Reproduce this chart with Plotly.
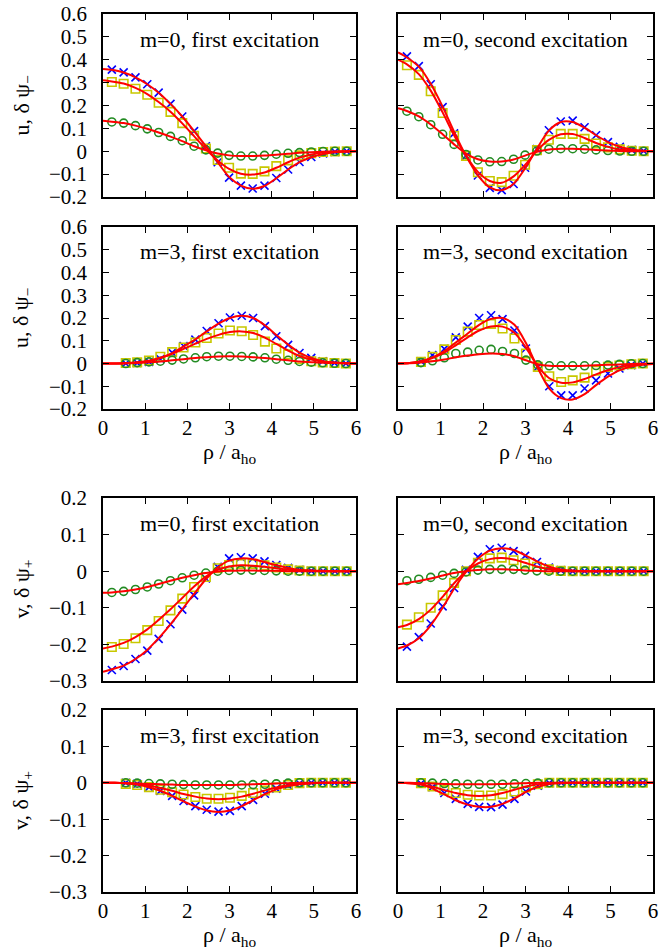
import plotly.graph_objects as go

# ---------------- data ----------------
RHO_M0 = [0.21, 0.49, 0.77, 1.05, 1.32, 1.60, 1.88, 2.16, 2.44, 2.72, 2.99,
          3.27, 3.55, 3.83, 4.11, 4.39, 4.66, 4.94, 5.22, 5.50, 5.78]
RHO_M3 = [0.54, 0.81, 1.09, 1.36, 1.64, 1.91, 2.19, 2.46, 2.74, 3.01,
          3.29, 3.56, 3.84, 4.11, 4.39, 4.66, 4.94, 5.21, 5.49, 5.76]
CURVE_M0 = [0.0] + RHO_M0 + [6.0]
CURVE_M3 = [0.0, 0.27] + RHO_M3 + [6.0]

X_TICKS = [0, 1, 2, 3, 4, 5, 6]
Y_TICKS_U = [-0.2, -0.1, 0, 0.1, 0.2, 0.3, 0.4, 0.5, 0.6]
Y_TICKS_V = [-0.3, -0.2, -0.1, 0, 0.1, 0.2]

PANEL_TITLES = ["m=0, first excitation", "m=0, second excitation",
                "m=3, first excitation", "m=3, second excitation",
                "m=0, first excitation", "m=0, second excitation",
                "m=3, first excitation", "m=3, second excitation"]

# panel 1: u, m=0, first
u0a_blue = [0.357, 0.345, 0.323, 0.293, 0.256, 0.207, 0.152, 0.088, 0.022, -0.048, -0.115,
            -0.150, -0.163, -0.150, -0.117, -0.080, -0.047, -0.025, -0.010, -0.003, 0.0]
u0a_yellow = [0.303, 0.295, 0.273, 0.247, 0.212, 0.172, 0.123, 0.068, 0.012, -0.038, -0.072,
              -0.098, -0.099, -0.088, -0.065, -0.040, -0.018, -0.008, -0.003, -0.001, 0.0]
u0a_green = [0.128, 0.123, 0.112, 0.098, 0.082, 0.065, 0.046, 0.022, 0.006, -0.008, -0.018,
             -0.021, -0.021, -0.018, -0.013, -0.009, -0.006, -0.003, -0.001, 0.0, 0.0]
u0a_fit_blue = [0.36, 0.356, 0.344, 0.323, 0.293, 0.256, 0.207, 0.152, 0.088, 0.022, -0.048, -0.112,
                -0.150, -0.164, -0.152, -0.118, -0.080, -0.048, -0.026, -0.012, -0.004, -0.001, 0.0]
u0a_fit_yellow = [0.31, 0.305, 0.296, 0.277, 0.25, 0.215, 0.173, 0.122, 0.066, 0.01, -0.04, -0.077,
                  -0.098, -0.102, -0.093, -0.072, -0.048, -0.028, -0.014, -0.006, -0.002, -0.001, 0.0]
u0a_fit_green = [0.133, 0.129, 0.123, 0.112, 0.098, 0.082, 0.064, 0.044, 0.022, 0.004, -0.010, -0.018,
                 -0.021, -0.021, -0.019, -0.015, -0.011, -0.007, -0.004, -0.002, -0.001, 0.0, 0.0]

# panel 2: u, m=0, second
u0b_blue = [0.415, 0.372, 0.293, 0.193, 0.078, -0.02, -0.106, -0.160, -0.170, -0.143, -0.072,
            0.01, 0.092, 0.130, 0.134, 0.105, 0.07, 0.04, 0.019, 0.006, 0.001]
u0b_yellow = [0.376, 0.334, 0.262, 0.167, 0.068, -0.02, -0.092, -0.13, -0.135, -0.107, -0.059,
              0.005, 0.05, 0.076, 0.076, 0.054, 0.034, 0.017, 0.008, 0.002, 0.0]
u0b_green = [0.175, 0.151, 0.116, 0.074, 0.030, -0.014, -0.038, -0.046, -0.045, -0.035, -0.017,
             0.001, 0.009, 0.011, 0.011, 0.009, 0.006, 0.003, 0.001, 0.0, 0.0]
u0b_fit_blue = [0.432, 0.41, 0.37, 0.295, 0.195, 0.085, -0.02, -0.105, -0.158, -0.170, -0.142, -0.075,
                0.012, 0.09, 0.128, 0.128, 0.103, 0.07, 0.04, 0.02, 0.008, 0.002, 0.0]
u0b_fit_yellow = [0.40, 0.38, 0.337, 0.265, 0.17, 0.07, -0.02, -0.09, -0.13, -0.138, -0.11, -0.06,
                  0.003, 0.05, 0.074, 0.075, 0.058, 0.036, 0.019, 0.008, 0.003, 0.001, 0.0]
u0b_fit_green = [0.188, 0.176, 0.152, 0.117, 0.074, 0.030, -0.010, -0.035, -0.045, -0.045, -0.036, -0.019,
                 -0.002, 0.008, 0.011, 0.011, 0.009, 0.006, 0.003, 0.001, 0.0, 0.0, 0.0]

# panel 3: u, m=3, first
u3a_blue = [0.0, 0.003, 0.007, 0.02, 0.048, 0.077, 0.105, 0.143, 0.177, 0.202,
            0.21, 0.2, 0.164, 0.12, 0.082, 0.046, 0.025, 0.01, 0.003, 0.0]
u3a_yellow = [0.002, 0.005, 0.013, 0.03, 0.05, 0.07, 0.092, 0.112, 0.132, 0.145,
              0.142, 0.125, 0.096, 0.066, 0.04, 0.02, 0.01, 0.005, 0.002, 0.0]
u3a_green = [0.0, 0.004, 0.007, 0.01, 0.015, 0.02, 0.025, 0.03, 0.032, 0.032,
             0.031, 0.029, 0.025, 0.019, 0.014, 0.009, 0.006, 0.003, 0.001, 0.0]
u3a_fit_blue = [0, 0, 0.001, 0.004, 0.01, 0.024, 0.046, 0.075, 0.106, 0.141, 0.175, 0.2,
                0.21, 0.2, 0.168, 0.125, 0.083, 0.048, 0.024, 0.01, 0.004, 0.001, 0]
u3a_fit_yellow = [0, 0, 0.002, 0.005, 0.012, 0.025, 0.043, 0.064, 0.087, 0.108, 0.126, 0.138,
                  0.141, 0.134, 0.114, 0.086, 0.057, 0.033, 0.017, 0.008, 0.003, 0.001, 0]
u3a_fit_green = [0, 0, 0.001, 0.002, 0.005, 0.009, 0.014, 0.019, 0.024, 0.028, 0.031, 0.032,
                 0.031, 0.028, 0.024, 0.019, 0.014, 0.009, 0.006, 0.003, 0.002, 0.001, 0]

# panel 4: u, m=3, second
u3b_blue = [0.01, 0.037, 0.064, 0.115, 0.162, 0.2, 0.212, 0.195, 0.145, 0.066,
            -0.015, -0.100, -0.140, -0.140, -0.110, -0.074, -0.044, -0.022, -0.007, 0.0]
u3b_yellow = [0.007, 0.029, 0.062, 0.103, 0.14, 0.169, 0.174, 0.154, 0.110, 0.044,
              -0.015, -0.056, -0.081, -0.074, -0.062, -0.032, -0.015, -0.009, -0.003, 0.0]
u3b_green = [0.004, 0.012, 0.025, 0.044, 0.05, 0.058, 0.062, 0.053, 0.044, 0.015,
             -0.006, -0.01, -0.01, -0.01, -0.01, -0.009, -0.007, -0.004, -0.001, 0.0]
u3b_fit_blue = [0, 0.002, 0.01, 0.027, 0.055, 0.092, 0.132, 0.17, 0.196, 0.2, 0.17, 0.09,
                -0.02, -0.11, -0.152, -0.158, -0.135, -0.095, -0.058, -0.03, -0.013, -0.005, -0.002]
u3b_fit_yellow = [0, 0.002, 0.009, 0.024, 0.048, 0.08, 0.115, 0.145, 0.163, 0.162, 0.135, 0.07,
                  -0.012, -0.065, -0.085, -0.083, -0.068, -0.048, -0.03, -0.016, -0.007, -0.003, -0.001]
u3b_fit_green = [0, 0.001, 0.004, 0.01, 0.018, 0.027, 0.035, 0.041, 0.044, 0.042, 0.032, 0.014,
                 -0.003, -0.01, -0.011, -0.011, -0.01, -0.008, -0.006, -0.004, -0.002, -0.001, 0]

# panel 5: v, m=0, first
v0a_blue = [-0.27, -0.259, -0.24, -0.217, -0.185, -0.145, -0.105, -0.066, -0.02, 0.012, 0.035,
            0.038, 0.035, 0.027, 0.017, 0.009, 0.004, 0.001, 0.0, 0.0, 0.0]
v0a_yellow = [-0.207, -0.199, -0.183, -0.161, -0.136, -0.107, -0.075, -0.043, -0.016, 0.008, 0.017,
              0.02, 0.02, 0.016, 0.01, 0.005, 0.002, 0.0, 0.0, 0.0, 0.0]
v0a_green = [-0.058, -0.055, -0.05, -0.043, -0.035, -0.026, -0.018, -0.011, -0.005, 0.0, 0.002,
             0.003, 0.003, 0.002, 0.001, 0.0, 0.0, 0.0, 0.0, 0.0, 0.0]
v0a_fit_blue = [-0.275, -0.268, -0.258, -0.24, -0.215, -0.183, -0.145, -0.104, -0.062, -0.022, 0.01, 0.029,
                0.035, 0.033, 0.025, 0.016, 0.009, 0.004, 0.002, 0.001, 0.0, 0.0, 0.0]
v0a_fit_yellow = [-0.211, -0.206, -0.196, -0.18, -0.159, -0.133, -0.104, -0.073, -0.042, -0.015, 0.004, 0.013,
                  0.016, 0.015, 0.012, 0.008, 0.004, 0.002, 0.001, 0.0, 0.0, 0.0, 0.0]
v0a_fit_green = [-0.059, -0.058, -0.055, -0.05, -0.043, -0.035, -0.026, -0.018, -0.011, -0.005, -0.001, 0.001,
                 0.002, 0.002, 0.001, 0.001, 0.0, 0.0, 0.0, 0.0, 0.0, 0.0, 0.0]

# panel 6: v, m=0, second
v0b_blue = [-0.206, -0.18, -0.143, -0.096, -0.046, 0.004, 0.039, 0.06, 0.064, 0.055, 0.042,
            0.025, 0.01, 0.003, 0.0, 0.0, 0.0, 0.0, 0.0, 0.0, 0.0]
v0b_yellow = [-0.146, -0.126, -0.1, -0.066, -0.032, 0.0, 0.023, 0.035, 0.037, 0.03, 0.021,
              0.012, 0.005, 0.001, 0.0, 0.0, 0.0, 0.0, 0.0, 0.0, 0.0]
v0b_green = [-0.026, -0.022, -0.017, -0.011, -0.006, -0.002, 0.003, 0.005, 0.005, 0.005, 0.003,
             0.001, 0.0, 0.0, 0.0, 0.0, 0.0, 0.0, 0.0, 0.0, 0.0]
v0b_fit_blue = [-0.211, -0.203, -0.183, -0.148, -0.1, -0.048, -0.002, 0.034, 0.056, 0.063, 0.058, 0.044,
                0.027, 0.013, 0.005, 0.002, 0.0, 0.0, 0.0, 0.0, 0.0, 0.0, 0.0]
v0b_fit_yellow = [-0.153, -0.147, -0.131, -0.105, -0.07, -0.033, -0.001, 0.021, 0.033, 0.036, 0.032, 0.023,
                  0.013, 0.006, 0.002, 0.0, 0.0, 0.0, 0.0, 0.0, 0.0, 0.0, 0.0]
v0b_fit_green = [-0.036, -0.032, -0.027, -0.02, -0.012, -0.005, 0.0, 0.003, 0.005, 0.005, 0.004, 0.002,
                 0.001, 0.0, 0.0, 0.0, 0.0, 0.0, 0.0, 0.0, 0.0, 0.0, 0.0]

# panel 7: v, m=3, first
v3a_blue = [0.0, -0.003, -0.012, -0.022, -0.036, -0.05, -0.064, -0.074, -0.079, -0.077,
            -0.064, -0.047, -0.03, -0.016, -0.007, -0.002, 0.0, 0.0, 0.0, 0.0]
v3a_yellow = [-0.003, -0.006, -0.012, -0.019, -0.026, -0.032, -0.039, -0.044, -0.044, -0.041,
              -0.036, -0.028, -0.021, -0.013, -0.006, -0.001, 0.0, 0.0, 0.0, 0.0]
v3a_green = [0.0, -0.001, -0.002, -0.003, -0.004, -0.005, -0.006, -0.006, -0.006, -0.006,
             -0.006, -0.005, -0.004, -0.003, -0.001, 0.0, 0.0, 0.0, 0.0, 0.0]
v3a_fit_blue = [0, 0, -0.001, -0.005, -0.012, -0.022, -0.036, -0.051, -0.065, -0.076, -0.08, -0.076,
                -0.064, -0.048, -0.031, -0.018, -0.009, -0.004, -0.001, 0, 0, 0, 0]
v3a_fit_yellow = [0, 0, -0.001, -0.003, -0.008, -0.014, -0.022, -0.031, -0.038, -0.043, -0.045, -0.043,
                  -0.038, -0.03, -0.021, -0.013, -0.007, -0.003, -0.001, 0, 0, 0, 0]
v3a_fit_green = [0, 0, -0.001, -0.002, -0.003, -0.004, -0.005, -0.006, -0.006, -0.006, -0.006, -0.006,
                 -0.005, -0.004, -0.003, -0.002, -0.001, 0, 0, 0, 0, 0, 0]

# panel 8: v, m=3, second
v3b_blue = [-0.002, -0.012, -0.028, -0.044, -0.058, -0.066, -0.067, -0.06, -0.044, -0.024,
            -0.008, -0.001, 0.0, 0.0, 0.0, 0.0, 0.0, 0.0, 0.0, 0.0]
v3b_yellow = [-0.001, -0.01, -0.02, -0.028, -0.033, -0.035, -0.035, -0.031, -0.024, -0.013,
              -0.004, 0.0, 0.0, 0.0, 0.0, 0.0, 0.0, 0.0, 0.0, 0.0]
v3b_green = [0.0, -0.001, -0.002, -0.003, -0.004, -0.004, -0.004, -0.004, -0.003, -0.002,
             -0.001, 0.0, 0.0, 0.0, 0.0, 0.0, 0.0, 0.0, 0.0, 0.0]
v3b_fit_blue = [0, -0.001, -0.005, -0.016, -0.032, -0.048, -0.06, -0.066, -0.066, -0.058, -0.043, -0.025,
                -0.011, -0.003, -0.001, 0, 0, 0, 0, 0, 0, 0, 0]
v3b_fit_yellow = [0, -0.001, -0.004, -0.011, -0.02, -0.028, -0.034, -0.036, -0.034, -0.028, -0.019, -0.01,
                  -0.004, -0.001, 0, 0, 0, 0, 0, 0, 0, 0, 0]
v3b_fit_green = [0, 0, -0.001, -0.002, -0.003, -0.004, -0.004, -0.004, -0.004, -0.003, -0.002, -0.001,
                 0, 0, 0, 0, 0, 0, 0, 0, 0, 0, 0]

PANELS = [
    (RHO_M0, CURVE_M0, u0a_blue, u0a_yellow, u0a_green, u0a_fit_blue, u0a_fit_yellow, u0a_fit_green),
    (RHO_M0, CURVE_M0, u0b_blue, u0b_yellow, u0b_green, u0b_fit_blue, u0b_fit_yellow, u0b_fit_green),
    (RHO_M3, CURVE_M3, u3a_blue, u3a_yellow, u3a_green, u3a_fit_blue, u3a_fit_yellow, u3a_fit_green),
    (RHO_M3, CURVE_M3, u3b_blue, u3b_yellow, u3b_green, u3b_fit_blue, u3b_fit_yellow, u3b_fit_green),
    (RHO_M0, CURVE_M0, v0a_blue, v0a_yellow, v0a_green, v0a_fit_blue, v0a_fit_yellow, v0a_fit_green),
    (RHO_M0, CURVE_M0, v0b_blue, v0b_yellow, v0b_green, v0b_fit_blue, v0b_fit_yellow, v0b_fit_green),
    (RHO_M3, CURVE_M3, v3a_blue, v3a_yellow, v3a_green, v3a_fit_blue, v3a_fit_yellow, v3a_fit_green),
    (RHO_M3, CURVE_M3, v3b_blue, v3b_yellow, v3b_green, v3b_fit_blue, v3b_fit_yellow, v3b_fit_green),
]

# ---------------- layout geometry ----------------
W, H = 662, 950
COL_PX = [(103, 356), (398, 653)]
ROW_PX = [(14, 197), (227, 409), (498, 681), (710, 892)]

BLUE = "#0000ff"
YELLOW = "#c8c800"
GREEN = "#228b22"
RED = "#ff0000"
FONT = "Times New Roman, Liberation Serif, serif"

fig = go.Figure()
layout = dict(
    template="none",
    width=W, height=H, margin=dict(l=0, r=0, t=0, b=0, pad=0),
    paper_bgcolor="white", plot_bgcolor="white", showlegend=False,
    font=dict(family=FONT, size=20, color="black"),
)
annotations = []

for k in range(8):
    r, c = divmod(k, 2)
    xs, cx, yb, yy, yg, fb, fy, fg = PANELS[k]
    ax = "" if k == 0 else str(k + 1)
    xa, ya = "x" + ax, "y" + ax

    fig.add_trace(go.Scatter(x=xs, y=yb, mode="markers", xaxis=xa, yaxis=ya,
                             marker=dict(symbol="x-thin-open", size=8, color=BLUE,
                                         line=dict(color=BLUE, width=1.6))))
    fig.add_trace(go.Scatter(x=xs, y=yy, mode="markers", xaxis=xa, yaxis=ya,
                             marker=dict(symbol="square-open", size=8.5, color=YELLOW,
                                         line=dict(color=YELLOW, width=1.6))))
    fig.add_trace(go.Scatter(x=xs, y=yg, mode="markers", xaxis=xa, yaxis=ya,
                             marker=dict(symbol="circle-open", size=8, color=GREEN,
                                         line=dict(color=GREEN, width=1.6))))
    for fit in (fb, fy, fg):
        fig.add_trace(go.Scatter(x=cx, y=fit, mode="lines", xaxis=xa, yaxis=ya,
                                 line=dict(color=RED, width=2, shape="spline", smoothing=0.8)))

    x0, x1 = COL_PX[c]
    y0, y1 = ROW_PX[r]
    is_u = r < 2
    show_x = r in (1, 3)
    yt = Y_TICKS_U if is_u else Y_TICKS_V
    layout["xaxis" + ax] = dict(
        domain=[x0 / W, x1 / W], range=[0, 6], tickvals=X_TICKS,
        ticktext=[str(v) for v in X_TICKS],
        anchor=ya, showline=True, linecolor="black", linewidth=1.5, mirror="ticks",
        ticks="inside", ticklen=6, tickwidth=1.2, tickcolor="black",
        showgrid=False, zeroline=False, showticklabels=show_x, automargin=False,
        ticklabeloverflow="allow",
        ticklabelstandoff=-1, tickfont=dict(family=FONT, size=21, color="black"),
    )
    layout["yaxis" + ax] = dict(
        domain=[1 - y1 / H, 1 - y0 / H],
        range=[-0.2, 0.6] if is_u else [-0.3, 0.2],
        tickvals=yt,
        ticktext=[("0" if v == 0 else f"{v:.1f}".replace("-", "\u2212")) for v in yt],
        anchor=xa, showline=True, linecolor="black", linewidth=1.5, mirror="ticks",
        ticks="inside", ticklen=6, tickwidth=1.2, tickcolor="black",
        showgrid=False, zeroline=False, showticklabels=(c == 0), automargin=False,
        ticklabeloverflow="allow",
        ticklabelstandoff=10, tickfont=dict(family=FONT, size=21, color="black"),
    )
    annotations.append(dict(
        text=PANEL_TITLES[k], xref=xa + " domain", yref=ya + " domain",
        x=0.5, y=1 - 25 / (y1 - y0), xanchor="center", yanchor="middle",
        showarrow=False, font=dict(family=FONT, size=22, color="black")))

    if c == 0:
        annotations.append(dict(
            text="u, \u03b4 \u03c8<sub>\u2212</sub>" if is_u else "v, \u03b4 \u03c8<sub>+</sub>",
            xref="paper", yref="paper", x=22 / W, y=1 - (y0 + y1) / 2 / H,
            xanchor="center", yanchor="middle", textangle=-90, showarrow=False,
            font=dict(family=FONT, size=22, color="black")))
    if show_x:
        annotations.append(dict(
            text="\u03c1 / a<sub>ho</sub>", xref="paper", yref="paper",
            x=(x0 + x1) / 2 / W, y=1 - (y1 + 44) / H,
            xanchor="center", yanchor="middle", showarrow=False,
            font=dict(family=FONT, size=22, color="black")))

layout["annotations"] = annotations
fig.update_layout(**layout)
fig.write_html("out.html", config={"displayModeBar": False},
               post_script="document.body.style.margin='0px';")
